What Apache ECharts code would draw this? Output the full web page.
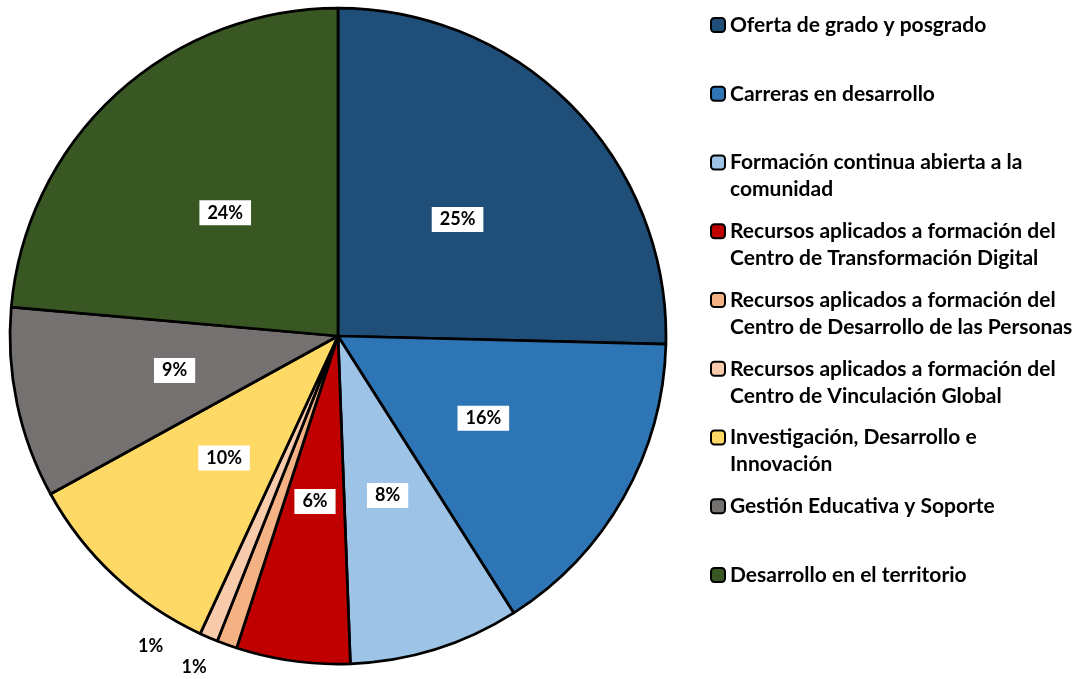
<!DOCTYPE html>
<html>
<head>
<meta charset="utf-8">
<script src="https://cdn.jsdelivr.net/npm/echarts@6/dist/echarts.min.js"></script>
<style>
html,body{margin:0;padding:0;background:#fff;}
#chart{width:1083px;height:679px;}
</style>
</head>
<body>
<div id="chart"></div>
<script>
const categories = [
  'Oferta de grado y posgrado',
  'Carreras en desarrollo',
  'Formación continua abierta a la\ncomunidad',
  'Recursos aplicados a formación del\nCentro de Transformación Digital',
  'Recursos aplicados a formación del\nCentro de Desarrollo de las Personas',
  'Recursos aplicados a formación del\nCentro de Vinculación Global',
  'Investigación, Desarrollo e\nInnovación',
  'Gestión Educativa y Soporte',
  'Desarrollo en el territorio'
];
const values = [25.4, 15.6, 8.4, 5.6, 1.0, 0.9, 10.1, 9.4, 23.6];
const colors = ['#1F4E79', '#2E75B6', '#9DC3E6', '#C00000', '#F4B183', '#F8CBAD', '#FFD966', '#767171', '#385723'];
const outsideLabel = [false, false, false, false, true, true, false, false, false];

const FONT = 'Lato, "Liberation Sans", sans-serif';
const chart = echarts.init(document.getElementById('chart'));

const outsideLines = [
  {length: 24, length2: 7},
  {length: 9, length2: 37}
];
let oi = 0;
const data = categories.map((name, i) => {
  const item = {name: name, value: values[i], itemStyle: {color: colors[i]}};
  if (outsideLabel[i]) {
    const ll = outsideLines[oi++];
    item.label = {
      position: 'outside',
      backgroundColor: 'transparent',
      padding: 0
    };
    item.labelLine = {show: false, length: ll.length, length2: ll.length2};
  }
  return item;
});

const LINE_H = 27;
const legends = categories.map((name, i) => {
  const lines = name.split('\n').length;
  const iconY = 25 + i * 68.75;
  const textH = LINE_H * (2 * lines - 1);
  return {
    orient: 'vertical',
    left: 710,
    top: iconY - textH / 2,
    padding: 0,
    icon: 'roundRect',
    itemWidth: 14,
    itemHeight: 14,
    itemGap: 0,
    itemStyle: {borderColor: '#000', borderWidth: 2},
    selectedMode: false,
    data: [name],
    // multi-line entries: keep the icon level with the first line (as in Excel)
    formatter: n => (lines > 1 ? '\n' : '') + n,
    textStyle: {
      fontFamily: FONT,
      fontSize: 21,
      fontWeight: 'bold',
      color: '#000',
      lineHeight: LINE_H
    }
  };
});

chart.setOption({
  backgroundColor: '#fff',
  animation: false,
  legend: legends,
  series: [{
    type: 'pie',
    center: [338, 336],
    radius: 328,
    startAngle: 90,
    clockwise: true,
    avoidLabelOverlap: false,
    itemStyle: {borderColor: '#000', borderWidth: 2.75},
    label: {
      show: true,
      position: 'inside',
      formatter: p => Math.round(p.percent) + '%',
      fontFamily: FONT,
      fontSize: 18,
      fontWeight: 'bold',
      color: '#000',
      backgroundColor: '#fff',
      padding: [4, 8, 3, 8]
    },
    labelLine: {show: false},
    emphasis: {disabled: true},
    data: data
  }]
});
</script>
</body>
</html>
